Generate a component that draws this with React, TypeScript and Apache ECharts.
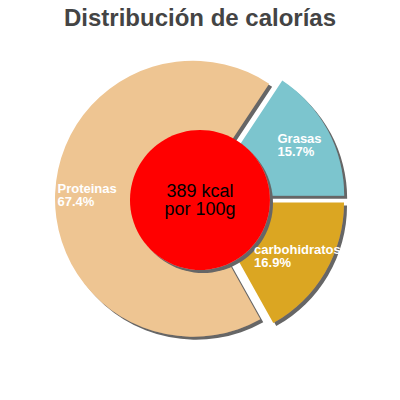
import React, { useEffect, useRef } from "react";
import * as echarts from "echarts";

const title = "Distribución de calorías";
const categories = ["Grasas", "carbohidratos", "Proteinas"];
const values = [15.7, 16.9, 67.4];
const colors = ["#7cc5ce", "#dba623", "#eec592"];
const centerLines = ["389 kcal", "por 100g"];

const FONT = "'Liberation Sans', Arial, sans-serif";
const SHADOW = {
  shadowColor: "#666666",
  shadowBlur: 0,
  shadowOffsetX: 3,
  shadowOffsetY: 3,
};

export default function App() {
  const ref = useRef<HTMLDivElement>(null);
  useEffect(() => {
    document.body.style.margin = "0";
    const chart = echarts.init(ref.current!, null, { renderer: "svg" });
    const startAngle = (values[0] / values.reduce((a, b) => a + b, 0)) * 360;
    const data = categories.map((name, i) => ({
      name,
      value: values[i],
      selected: true,
      itemStyle: { color: colors[i] },
    }));
    chart.setOption({
      animation: false,
      title: {
        text: title,
        left: "center",
        top: 0,
        textStyle: {
          fontFamily: FONT,
          fontSize: 24,
          fontWeight: "bold",
          color: "#444444",
        },
      },
      series: [
        {
          type: "pie",
          z: 2,
          center: [200, 199],
          radius: [58, 138],
          startAngle,
          clockwise: true,
          selectedMode: "multiple",
          selectedOffset: 7,
          silent: true,
          label: { show: false },
          labelLine: { show: false },
          itemStyle: { ...SHADOW, borderWidth: 0 },
          data,
        },
        {
          type: "pie",
          z: 5,
          center: [200, 200],
          radius: [0, 70],
          silent: true,
          label: {
            show: true,
            position: "center",
            formatter: centerLines.join("\n"),
            fontFamily: FONT,
            fontSize: 18,
            lineHeight: 18,
            color: "#000000",
          },
          labelLine: { show: false },
          itemStyle: { color: "#ff0000", ...SHADOW },
          data: [{ name: "kcal", value: 1 }],
        },
        {
          type: "pie",
          z: 6,
          center: [200, 199],
          radius: [68, 138],
          startAngle,
          clockwise: true,
          selectedMode: "multiple",
          selectedOffset: 7,
          silent: true,
          label: {
            show: true,
            position: "inside",
            formatter: (p: any) => `${p.name}\n${p.value}%`,
            fontFamily: FONT,
            fontSize: 13,
            fontWeight: "bold",
            lineHeight: 13,
            color: "#ffffff",
          },
          labelLine: { show: false },
          labelLayout: (p: any) => ({
            align: "left",
            dx: -p.labelRect.width / 2,
          }),
          itemStyle: { color: "rgba(0,0,0,0)" },
          data: categories.map((name, i) => ({
            name,
            value: values[i],
            selected: true,
          })),
        },
      ],
    });
    return () => chart.dispose();
  }, []);
  return <div ref={ref} style={{ width: 400, height: 400 }} />;
}
